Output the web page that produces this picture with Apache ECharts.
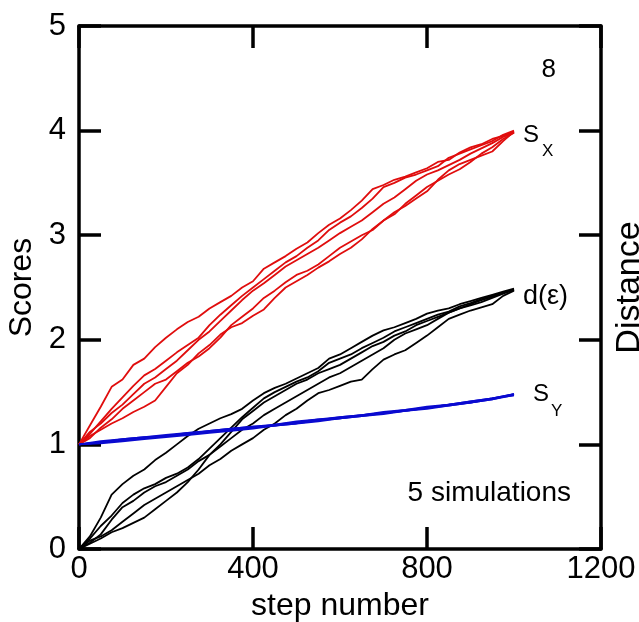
<!DOCTYPE html>
<html>
<head>
<meta charset="utf-8">
<script src="https://cdn.jsdelivr.net/npm/echarts@6/dist/echarts.min.js"></script>
<style>
html,body{margin:0;padding:0;background:#fff;overflow:hidden;}
#c{width:639px;height:622px;}
</style>
</head>
<body>
<div id="c"></div>
<script>
// ---- data ----
const stepsFine = [0,25,50,75,100,125,150,175,200,225,250,275,300,325,350,375,400,425,450,475,500,525,550,575,600,625,650,675,700,725,750,775,800,825,850,875,900,925,950,975,1000];
const stepsBlue = [0,50,100,150,200,250,300,350,400,450,500,550,600,650,700,750,800,850,900,950,1000];

const sx1 = [1.00,1.18,1.36,1.55,1.62,1.76,1.82,1.93,2.02,2.10,2.17,2.22,2.30,2.36,2.42,2.50,2.56,2.68,2.74,2.80,2.87,2.93,3.02,3.10,3.16,3.24,3.33,3.44,3.48,3.53,3.56,3.60,3.64,3.70,3.72,3.79,3.84,3.87,3.92,3.95,3.99];
const sx2 = [1.00,1.10,1.22,1.34,1.45,1.56,1.66,1.72,1.80,1.88,1.95,2.02,2.14,2.24,2.33,2.42,2.50,2.58,2.66,2.74,2.80,2.88,2.95,3.05,3.12,3.18,3.26,3.35,3.46,3.50,3.55,3.58,3.62,3.66,3.74,3.78,3.82,3.86,3.90,3.96,4.00];
const sx3 = [1.00,1.12,1.20,1.30,1.38,1.48,1.58,1.64,1.72,1.80,1.90,2.00,2.08,2.18,2.28,2.38,2.47,2.54,2.62,2.70,2.76,2.82,2.88,2.95,3.02,3.08,3.14,3.22,3.30,3.36,3.44,3.52,3.58,3.62,3.67,3.72,3.78,3.83,3.88,3.94,3.98];
const sx4 = [1.00,1.06,1.16,1.24,1.34,1.42,1.50,1.58,1.62,1.70,1.78,1.84,1.92,2.02,2.14,2.22,2.30,2.40,2.47,2.55,2.62,2.66,2.72,2.80,2.88,2.94,3.00,3.05,3.14,3.20,3.30,3.38,3.46,3.52,3.58,3.63,3.70,3.78,3.84,3.92,3.98];
const sx5 = [1.00,1.08,1.14,1.20,1.25,1.31,1.36,1.42,1.55,1.68,1.76,1.87,1.95,2.05,2.12,2.16,2.23,2.29,2.40,2.50,2.56,2.62,2.69,2.75,2.82,2.88,2.96,3.06,3.14,3.22,3.28,3.35,3.42,3.53,3.62,3.68,3.72,3.76,3.80,3.90,3.99];

const de1 = [0.00,0.12,0.30,0.52,0.62,0.70,0.76,0.85,0.92,1.00,1.08,1.15,1.20,1.25,1.29,1.34,1.42,1.49,1.54,1.58,1.63,1.68,1.73,1.82,1.86,1.92,1.98,2.04,2.09,2.12,2.16,2.20,2.25,2.28,2.30,2.34,2.37,2.40,2.43,2.46,2.49];
const de2 = [0.00,0.10,0.22,0.32,0.44,0.52,0.58,0.62,0.68,0.72,0.78,0.86,0.96,1.06,1.16,1.26,1.35,1.44,1.50,1.55,1.60,1.64,1.70,1.78,1.82,1.86,1.92,1.97,2.02,2.08,2.12,2.16,2.20,2.24,2.27,2.32,2.35,2.39,2.42,2.45,2.48];
const de3 = [0.00,0.06,0.14,0.28,0.40,0.46,0.54,0.60,0.64,0.70,0.76,0.84,0.90,0.98,1.06,1.14,1.20,1.28,1.34,1.40,1.46,1.52,1.58,1.64,1.68,1.74,1.80,1.86,1.92,2.00,2.06,2.10,2.14,2.20,2.26,2.30,2.33,2.36,2.40,2.44,2.48];
const de4 = [0.00,0.05,0.10,0.16,0.20,0.25,0.30,0.38,0.46,0.54,0.64,0.76,0.90,1.00,1.12,1.24,1.32,1.40,1.46,1.52,1.58,1.62,1.68,1.72,1.76,1.82,1.88,1.94,1.98,2.04,2.08,2.14,2.18,2.22,2.26,2.30,2.34,2.38,2.41,2.45,2.48];
const de5 = [0.00,0.08,0.12,0.18,0.26,0.34,0.42,0.48,0.54,0.60,0.66,0.72,0.80,0.86,0.94,1.00,1.06,1.14,1.20,1.28,1.34,1.42,1.49,1.52,1.56,1.60,1.62,1.72,1.81,1.86,1.90,1.97,2.04,2.12,2.20,2.24,2.28,2.31,2.34,2.42,2.47];

const sy1 = [1.00,1.03,1.05,1.07,1.09,1.11,1.13,1.15,1.17,1.19,1.22,1.24,1.26,1.28,1.31,1.33,1.36,1.38,1.41,1.44,1.48];
const sy2 = [1.00,1.02,1.04,1.06,1.08,1.10,1.12,1.14,1.16,1.19,1.21,1.23,1.26,1.28,1.30,1.33,1.35,1.38,1.41,1.44,1.48];
const sy3 = [1.00,1.02,1.05,1.07,1.08,1.10,1.13,1.15,1.17,1.18,1.21,1.24,1.25,1.28,1.30,1.32,1.35,1.38,1.40,1.44,1.47];
const sy4 = [1.00,1.01,1.03,1.05,1.07,1.09,1.11,1.13,1.15,1.18,1.20,1.22,1.25,1.27,1.29,1.32,1.34,1.37,1.40,1.43,1.47];
const sy5 = [1.00,1.02,1.04,1.06,1.08,1.11,1.12,1.14,1.16,1.18,1.20,1.23,1.25,1.27,1.30,1.32,1.35,1.37,1.40,1.43,1.48];

const xTicks = [0, 400, 800, 1200];
const yTicks = [0, 1, 2, 3, 4, 5];

// ---- build ----
const FONT = '"Liberation Sans", Arial, Helvetica, sans-serif';
const RED = '#e00d0d', BLACK = '#000000', BLUE = '#0a0ad0';

function pairs(xs, ys) { return xs.map((x, i) => [x, ys[i]]); }
function line(name, xs, ys, color) {
  return {
    name: name, type: 'line', data: pairs(xs, ys), showSymbol: false, symbol: 'none',
    lineStyle: { color: color, width: 1.8 }, itemStyle: { color: color },
    animation: false, silent: true
  };
}

const series = [];
[sx1, sx2, sx3, sx4, sx5].forEach((d, i) => series.push(line('Sx' + i, stepsFine, d, RED)));
[de1, de2, de3, de4, de5].forEach((d, i) => series.push(line('d' + i, stepsFine, d, BLACK)));
[sy1, sy2, sy3, sy4, sy5].forEach((d, i) => series.push(line('Sy' + i, stepsBlue, d, BLUE)));

const axLine = { show: true, onZero: false, lineStyle: { color: '#000', width: 3.5 } };
const axTick = { show: true, inside: true, length: 22, lineStyle: { color: '#000', width: 3.5 } };
const plain = v => String(v);

const chart = echarts.init(document.getElementById('c'), null, { renderer: 'canvas' });
chart.setOption({
  animation: false,
  backgroundColor: '#fff',
  textStyle: { fontFamily: FONT },
  grid: { left: 79, right: 38, top: 26, bottom: 73, containLabel: false, outerBoundsMode: 'none' },
  xAxis: [
    {
      type: 'value', position: 'bottom', min: xTicks[0], max: xTicks[xTicks.length - 1], interval: 400,
      axisLine: axLine, axisTick: axTick, splitLine: { show: false },
      axisLabel: { fontSize: 31, color: '#000', margin: 5, fontFamily: FONT, formatter: plain },
      name: 'step number', nameLocation: 'middle', nameGap: 41,
      nameTextStyle: { fontSize: 32, color: '#000', fontFamily: FONT }
    },
    {
      type: 'value', position: 'top', min: xTicks[0], max: xTicks[xTicks.length - 1], interval: 400,
      axisLine: axLine, axisTick: axTick, splitLine: { show: false }, axisLabel: { show: false }
    }
  ],
  yAxis: [
    {
      type: 'value', position: 'left', min: yTicks[0], max: yTicks[yTicks.length - 1], interval: 1,
      axisLine: axLine, axisTick: axTick, splitLine: { show: false },
      axisLabel: { fontSize: 31, color: '#000', margin: 13, fontFamily: FONT, formatter: plain },
      name: 'Scores', nameLocation: 'middle', nameGap: 40, nameRotate: 90,
      nameTextStyle: { fontSize: 32, color: '#000', fontFamily: FONT }
    },
    {
      type: 'value', position: 'right', min: yTicks[0], max: yTicks[yTicks.length - 1], interval: 1,
      axisLine: axLine, axisTick: axTick, splitLine: { show: false }, axisLabel: { show: false },
      name: 'Distance', nameLocation: 'middle', nameGap: 12, nameRotate: 90,
      nameTextStyle: { fontSize: 34, color: '#000', fontFamily: FONT }
    }
  ],
  series: series
});

// annotations anchored to data coordinates
function px(x, y) { return chart.convertToPixel({ gridIndex: 0 }, [x, y]); }
const pSx = px(1000, 4.0), pD = px(1000, 2.49), pSy = px(1000, 1.48);
const pTop = px(1080, 4.58), pSim = px(760, 0.53);
function txt(x, y, s, size, align) {
  return { type: 'text', x: x, y: y, style: { text: s, fontSize: size, fontFamily: FONT, fill: '#000', align: align || 'left', verticalAlign: 'middle' }, silent: true };
}
chart.setOption({
  graphic: [
    txt(pTop[0], pTop[1], '8', 26, 'center'),
    txt(pSx[0] + 9, pSx[1] + 5, 'S', 24),
    txt(pSx[0] + 28, pSx[1] + 21, 'X', 17),
    txt(pD[0] + 9, pD[1] + 8, 'd(\u03b5)', 27),
    txt(pSy[0] + 19, pSy[1] + 0, 'S', 24),
    txt(pSy[0] + 37, pSy[1] + 17, 'Y', 17),
    txt(pSim[0] - 2, pSim[1], '5 simulations', 28)
  ]
});
</script>
</body>
</html>
